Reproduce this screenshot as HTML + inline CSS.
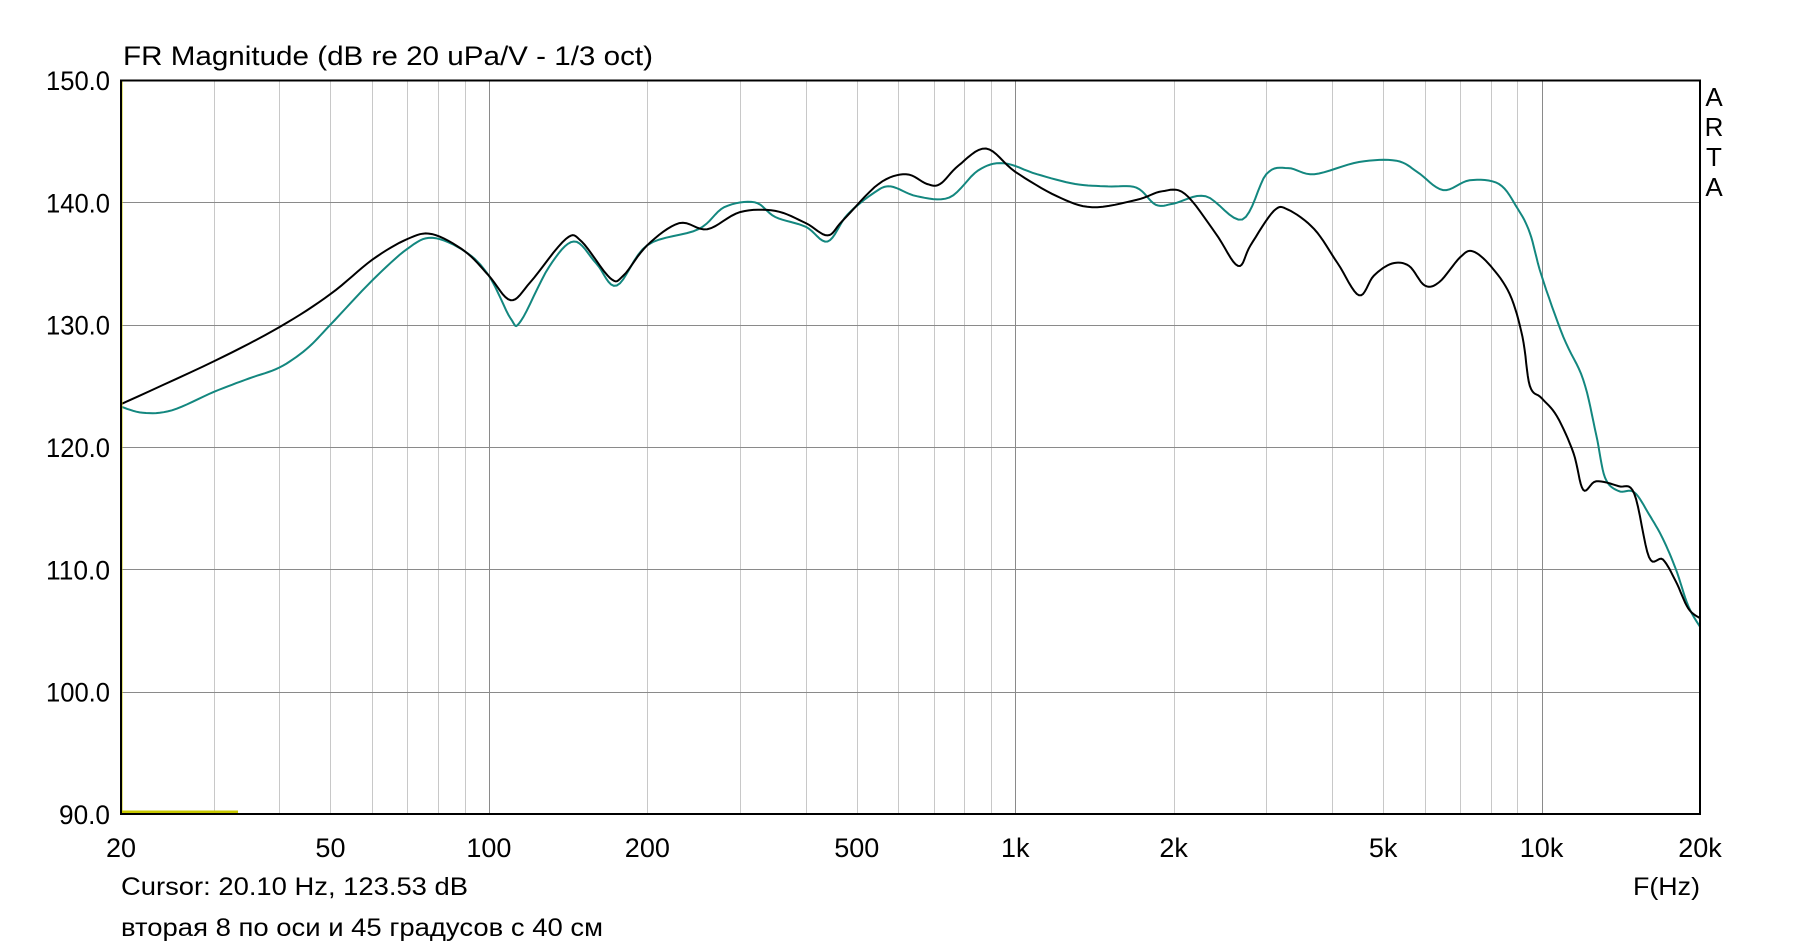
<!DOCTYPE html>
<html><head><meta charset="utf-8"><style>
html,body{margin:0;padding:0;background:#fff;}
svg{display:block;font-family:"Liberation Sans",Arial,sans-serif;}
</style></head><body>
<svg id="s" width="1820" height="946" xmlns="http://www.w3.org/2000/svg">
<rect width="1820" height="946" fill="#fff"/>
<g id="grid"></g>
<polyline id="teal" fill="none" stroke="#13877f" stroke-width="2"/>
<polyline id="blk" fill="none" stroke="#000" stroke-width="2"/>
<line x1="121" y1="812" x2="238" y2="812" stroke="#c8c800" stroke-width="3"/>
<line x1="121.5" y1="80" x2="121.5" y2="814" stroke="#c8c800" stroke-width="2"/>
<rect x="121" y="80.5" width="1579" height="733.5" fill="none" stroke="#000" stroke-width="2"/>
<text x="123" y="65" font-size="27" textLength="530" lengthAdjust="spacingAndGlyphs">FR Magnitude (dB re 20 uPa/V - 1/3 oct)</text>
<g font-size="27" text-anchor="end" id="yl"></g>
<g font-size="27" text-anchor="middle" id="xl"></g>
<g font-size="26" text-anchor="middle">
<text x="1714" y="106">A</text><text x="1714" y="136">R</text><text x="1714" y="166">T</text><text x="1714" y="196">A</text></g>
<text x="121" y="895" font-size="25" textLength="347" lengthAdjust="spacingAndGlyphs">Cursor: 20.10 Hz, 123.53 dB</text>
<text x="1700" y="895" font-size="25" text-anchor="end" textLength="67" lengthAdjust="spacingAndGlyphs">F(Hz)</text>
<text x="121" y="936" font-size="25" textLength="482" lengthAdjust="spacingAndGlyphs">вторая 8 по оси и 45 градусов с 40 см</text>
</svg>
<script>
var L=121,R=1700,T=80,B=814;
function X(f){return L+(Math.log10(f)-Math.log10(20))/3*(R-L);}
function Y(d){return T+(150-d)/60*(B-T);}
var ns="http://www.w3.org/2000/svg",g=document.getElementById('grid');
function ln(x1,y1,x2,y2,c){var e=document.createElementNS(ns,'line');e.setAttribute('x1',x1);e.setAttribute('y1',y1);e.setAttribute('x2',x2);e.setAttribute('y2',y2);e.setAttribute('stroke',c);e.setAttribute('stroke-width',1);g.appendChild(e);}
[10,100,1000,10000].forEach(function(d){for(var k=1;k<10;k++){var f=d*k;if(f<=20||f>=20000)continue;var x=Math.round(X(f))+0.5;ln(x,T,x,B,k==1?'#8a8a8a':'#c8c8c8');}});
for(var v=100;v<150;v+=10){var y=Math.round(Y(v))+0.5;ln(L,y,R,y,'#8a8a8a');}
var yl=document.getElementById('yl');
for(var v=90;v<=150;v+=10){var t=document.createElementNS(ns,'text');t.setAttribute('x',110);t.setAttribute('y',Y(v)+10);t.setAttribute('textLength',v>=100?64:51);t.setAttribute('lengthAdjust','spacingAndGlyphs');t.textContent=v.toFixed(1);yl.appendChild(t);}
var xl=document.getElementById('xl');
[[20,'20'],[50,'50'],[100,'100'],[200,'200'],[500,'500'],[1000,'1k'],[2000,'2k'],[5000,'5k'],[10000,'10k'],[20000,'20k']].forEach(function(p){var t=document.createElementNS(ns,'text');t.setAttribute('x',X(p[0]));t.setAttribute('y',857);t.textContent=p[1];xl.appendChild(t);});
var blk=[[20,123.5],[30,127],[40,129.8],[50,132.5],[60,135.3],[70,137],[78,137.4],[90,136],[100,134],[110,132],[120,133.5],[140,137],[150,136.8],[170,133.8],[180,134],[200,136.5],[230,138.3],[260,137.8],[300,139.2],[350,139.3],[400,138.3],[440,137.3],[470,138.5],[550,141.5],[620,142.3],[680,141.5],[720,141.5],[780,143],[880,144.4],[1000,142.5],[1200,140.5],[1400,139.6],[1700,140.2],[1900,140.9],[2100,140.7],[2400,137.5],[2650,134.8],[2800,136.5],[3100,139.3],[3300,139.4],[3700,137.8],[4100,135],[4500,132.4],[4800,134],[5200,135],[5600,134.8],[6000,133.2],[6400,133.5],[7000,135.5],[7400,136],[8000,134.8],[8700,132.5],[9200,129],[9500,125],[10000,124],[10700,122.5],[11500,119.5],[12000,116.5],[12700,117.2],[14000,116.8],[15000,116.2],[16000,111],[17000,110.8],[18000,109],[19000,106.8],[20000,106]];
var teal=[[20,123.3],[22,122.8],[25,123],[30,124.5],[35,125.6],[40,126.5],[45,128],[50,130],[60,133.6],[70,136.2],[78,137.1],[90,136],[100,134],[110,130.5],[115,130.3],[130,134.7],[145,136.8],[160,135],[175,133.2],[200,136.5],[250,137.8],[280,139.6],[320,140],[350,138.8],[400,138],[440,136.8],[480,139],[540,140.8],[580,141.3],[650,140.5],[750,140.4],[850,142.6],[950,143.2],[1100,142.3],[1300,141.5],[1500,141.3],[1700,141.2],[1850,139.8],[2000,139.9],[2300,140.5],[2700,138.6],[3000,142.3],[3300,142.8],[3700,142.3],[4500,143.3],[5300,143.4],[5800,142.5],[6500,141],[7300,141.8],[8300,141.5],[9000,139.5],[9500,137.5],[10000,134],[11000,129],[12000,125.5],[12700,121],[13200,117.5],[14000,116.4],[15000,116.3],[16000,114.5],[17000,112.5],[18000,110],[19000,107],[20000,105.3]];
function smooth(d){var p=d.map(function(a){return [X(a[0]),Y(a[1])];}),out=[];
for(var i=0;i<p.length-1;i++){var p0=p[Math.max(0,i-1)],p1=p[i],p2=p[i+1],p3=p[Math.min(p.length-1,i+2)];
for(var s=0;s<8;s++){var t=s/8,t2=t*t,t3=t2*t;
var x=0.5*((2*p1[0])+(-p0[0]+p2[0])*t+(2*p0[0]-5*p1[0]+4*p2[0]-p3[0])*t2+(-p0[0]+3*p1[0]-3*p2[0]+p3[0])*t3);
var y=0.5*((2*p1[1])+(-p0[1]+p2[1])*t+(2*p0[1]-5*p1[1]+4*p2[1]-p3[1])*t2+(-p0[1]+3*p1[1]-3*p2[1]+p3[1])*t3);
out.push(x.toFixed(1)+','+y.toFixed(1));}}
var l=p[p.length-1];out.push(l[0]+','+l[1]);return out.join(' ');}
document.getElementById('blk').setAttribute('points',smooth(blk));
document.getElementById('teal').setAttribute('points',smooth(teal));
</script>
</body></html>
